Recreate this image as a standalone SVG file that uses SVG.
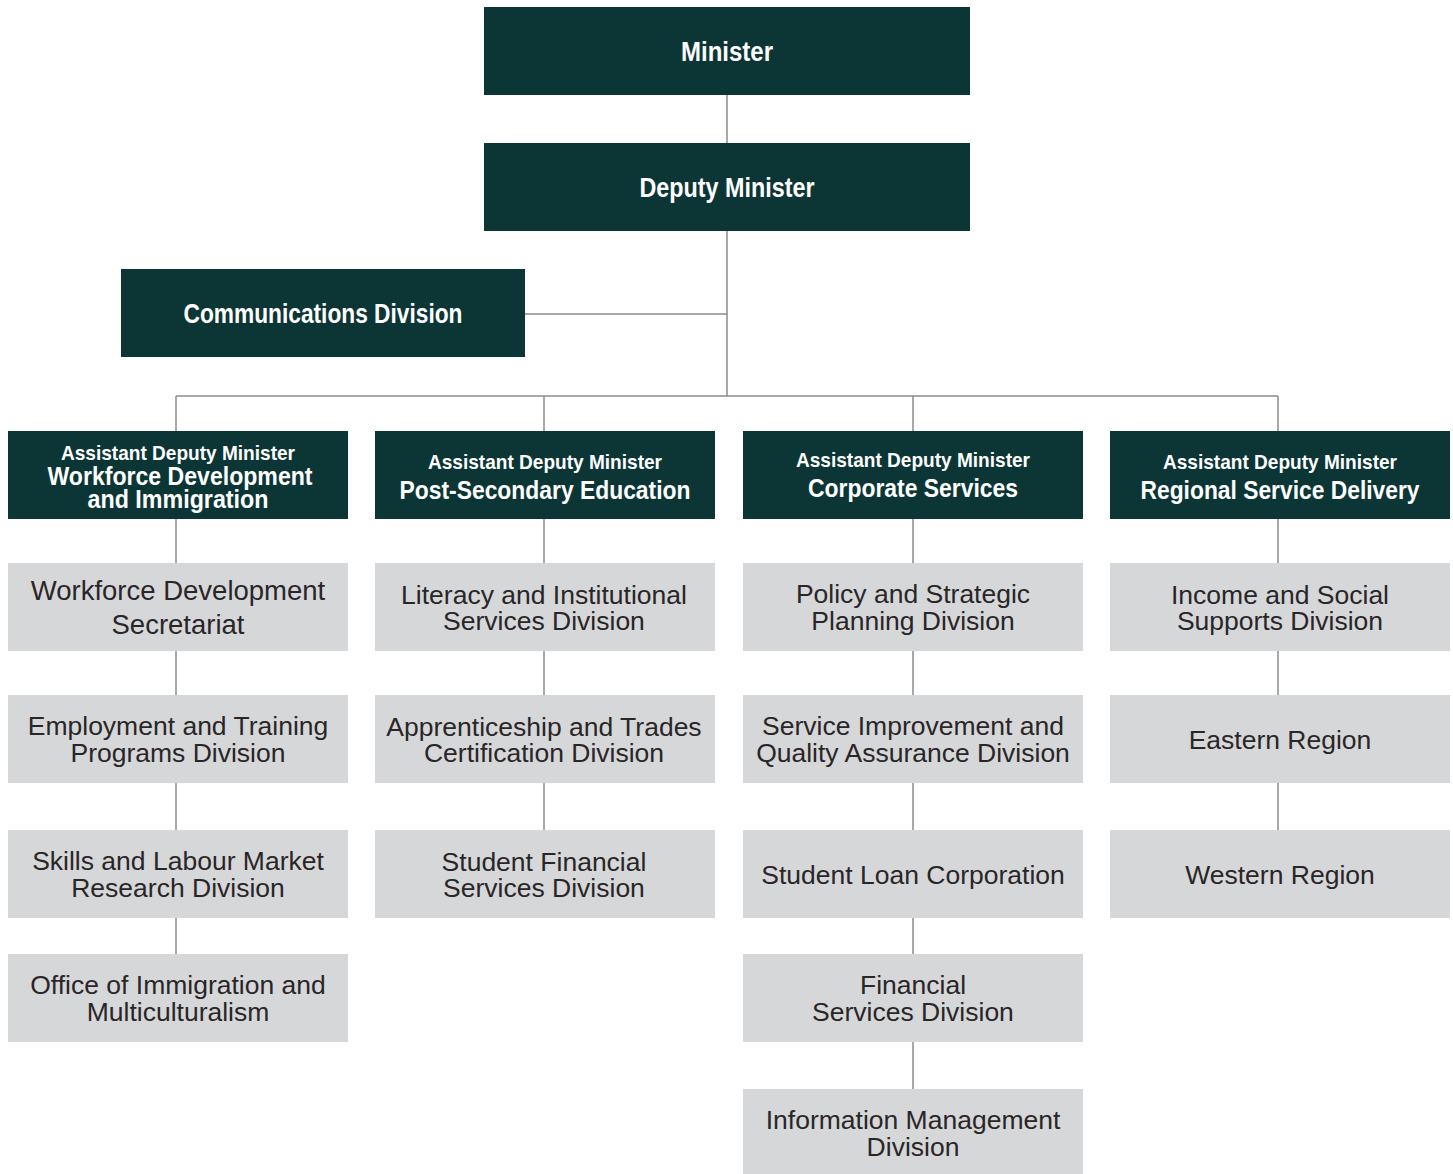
<svg xmlns="http://www.w3.org/2000/svg" width="1453" height="1174" viewBox="0 0 1453 1174">
<style>
.dk{fill:#0c3636}
.lt{fill:#d6d7d9}
.hd{font-family:"Liberation Sans","Arial",sans-serif;font-weight:bold;fill:#ffffff;text-anchor:middle}
.t1{font-size:27px}
.t2{font-size:20.5px}
.t3{font-size:25.5px}
.bx{font-family:"Liberation Sans","Arial",sans-serif;font-size:26.5px;fill:#2a2627;text-anchor:middle}
.cn{stroke:#8c8c8c;stroke-width:1.5;fill:none}
</style>
<rect width="1453" height="1174" fill="#ffffff"/>
<g id="connectors">
<path class="cn" d="M727 95V143M727 231V396M525 314H727M176 396H1278M176 396V431M544 396V431M913 396V431M1278 396V431"/>
<path class="cn" d="M176 519V563M176 651V695M176 783V830M176 918V954"/>
<path class="cn" d="M544 519V563M544 651V695M544 783V830"/>
<path class="cn" d="M913 519V563M913 651V695M913 783V830M913 918V954M913 1042V1089"/>
<path class="cn" d="M1278 519V563M1278 651V695M1278 783V830"/>
</g>
<g id="minister"><rect class="dk" x="484" y="7" width="486" height="88"/><text class="hd t1" x="727" y="61" textLength="92" lengthAdjust="spacingAndGlyphs">Minister</text></g>
<g id="deputy"><rect class="dk" x="484" y="143" width="486" height="88"/><text class="hd t1" x="727" y="197" textLength="175" lengthAdjust="spacingAndGlyphs">Deputy Minister</text></g>
<g id="comms"><rect class="dk" x="121" y="269" width="404" height="88"/><text class="hd t1" x="323" y="323" textLength="279" lengthAdjust="spacingAndGlyphs">Communications Division</text></g>
<g id="adm1"><rect class="dk" x="8" y="431" width="340" height="88"/><text class="hd t2" x="178" y="460" textLength="234" lengthAdjust="spacingAndGlyphs">Assistant Deputy Minister</text><text class="hd t3" x="180" y="485" textLength="265" lengthAdjust="spacingAndGlyphs">Workforce Development</text><text class="hd t3" x="178" y="508" textLength="181" lengthAdjust="spacingAndGlyphs">and Immigration</text></g>
<g id="adm2"><rect class="dk" x="375" y="431" width="340" height="88"/><text class="hd t2" x="545" y="469" textLength="234" lengthAdjust="spacingAndGlyphs">Assistant Deputy Minister</text><text class="hd t3" x="545" y="499" textLength="291" lengthAdjust="spacingAndGlyphs">Post-Secondary Education</text></g>
<g id="adm3"><rect class="dk" x="743" y="431" width="340" height="88"/><text class="hd t2" x="913" y="467" textLength="234" lengthAdjust="spacingAndGlyphs">Assistant Deputy Minister</text><text class="hd t3" x="913" y="497" textLength="210" lengthAdjust="spacingAndGlyphs">Corporate Services</text></g>
<g id="adm4"><rect class="dk" x="1110" y="431" width="340" height="88"/><text class="hd t2" x="1280" y="469" textLength="234" lengthAdjust="spacingAndGlyphs">Assistant Deputy Minister</text><text class="hd t3" x="1280" y="499" textLength="279" lengthAdjust="spacingAndGlyphs">Regional Service Delivery</text></g>
<g id="wds"><rect class="lt" x="8" y="563" width="340" height="88"/><text class="bx" x="178" y="600" style="font-size:27.5px">Workforce Development</text><text class="bx" x="178" y="634" style="font-size:27.5px">Secretariat</text></g>
<g id="etp"><rect class="lt" x="8" y="695" width="340" height="88"/><text class="bx" x="178" y="735">Employment and Training</text><text class="bx" x="178" y="762">Programs Division</text></g>
<g id="slmr"><rect class="lt" x="8" y="830" width="340" height="88"/><text class="bx" x="178" y="870">Skills and Labour Market</text><text class="bx" x="178" y="897">Research Division</text></g>
<g id="oim"><rect class="lt" x="8" y="954" width="340" height="88"/><text class="bx" x="178" y="994">Office of Immigration and</text><text class="bx" x="178" y="1021">Multiculturalism</text></g>
<g id="lis"><rect class="lt" x="375" y="563" width="340" height="88"/><text class="bx" x="544" y="604">Literacy and Institutional</text><text class="bx" x="544" y="630">Services Division</text></g>
<g id="atc"><rect class="lt" x="375" y="695" width="340" height="88"/><text class="bx" x="544" y="736">Apprenticeship and Trades</text><text class="bx" x="544" y="762">Certification Division</text></g>
<g id="sfs"><rect class="lt" x="375" y="830" width="340" height="88"/><text class="bx" x="544" y="871">Student Financial</text><text class="bx" x="544" y="897">Services Division</text></g>
<g id="psp"><rect class="lt" x="743" y="563" width="340" height="88"/><text class="bx" x="913" y="603">Policy and Strategic</text><text class="bx" x="913" y="630">Planning Division</text></g>
<g id="siqa"><rect class="lt" x="743" y="695" width="340" height="88"/><text class="bx" x="913" y="735">Service Improvement and</text><text class="bx" x="913" y="762">Quality Assurance Division</text></g>
<g id="slc"><rect class="lt" x="743" y="830" width="340" height="88"/><text class="bx" x="913" y="884">Student Loan Corporation</text></g>
<g id="fsd"><rect class="lt" x="743" y="954" width="340" height="88"/><text class="bx" x="913" y="994">Financial</text><text class="bx" x="913" y="1021">Services Division</text></g>
<g id="imd"><rect class="lt" x="743" y="1089" width="340" height="88"/><text class="bx" x="913" y="1129">Information Management</text><text class="bx" x="913" y="1156">Division</text></g>
<g id="isd"><rect class="lt" x="1110" y="563" width="340" height="88"/><text class="bx" x="1280" y="604">Income and Social</text><text class="bx" x="1280" y="630">Supports Division</text></g>
<g id="east"><rect class="lt" x="1110" y="695" width="340" height="88"/><text class="bx" x="1280" y="749">Eastern Region</text></g>
<g id="west"><rect class="lt" x="1110" y="830" width="340" height="88"/><text class="bx" x="1280" y="884">Western Region</text></g>
</svg>
